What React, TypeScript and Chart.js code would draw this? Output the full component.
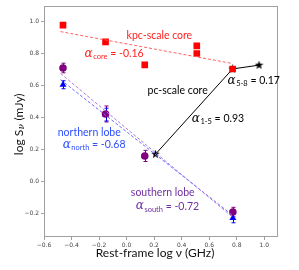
import React, { useEffect, useRef } from "react";
import { Chart, registerables } from "chart.js";

Chart.register(...registerables);

// ---- data ----
const kpcX = [-0.462, -0.153, 0.132, 0.51, 0.51, 0.77];
const kpcY = [0.978, 0.873, 0.729, 0.848, 0.8, 0.703];

const southX = [-0.462, -0.153, 0.132, 0.772];
const southY = [0.709, 0.421, 0.158, -0.194];
const southErr = [0.03, 0.05, 0.035, 0.03];

const northX = [-0.462, -0.153, 0.772];
const northY = [0.604, 0.417, -0.231];
const northErr = [0.025, 0.04, 0.03];

const pcX = [0.21, 0.77, 0.962];
const pcY = [0.169, 0.703, 0.727];

const fitCoreX = [-0.48, 0.77];
const fitCoreY = [0.937, 0.737];
const fitSouthX = [-0.48, 0.77];
const fitSouthY = [0.675, -0.225];
const fitNorthX = [-0.48, 0.77];
const fitNorthY = [0.636, -0.214];

const xTicks = [-0.6, -0.4, -0.2, 0.0, 0.2, 0.4, 0.6, 0.8, 1.0];
const yTicks = [-0.2, 0.0, 0.2, 0.4, 0.6, 0.8, 1.0];

const xTitle = "Rest-frame log \u03bd (GHz)";
const yTitleMain = "log S";
const yTitleSub = "\u03bd";
const yTitleRest = " (mJy)";

const RED = "#ff0000";
const PURPLE = "#800080";
const BLUE = "#0000ff";

const pts = (xs: number[], ys: number[]) => xs.map((x, i) => ({ x, y: ys[i] }));

function makeStar(size: number) {
  const c = document.createElement("canvas");
  c.width = size;
  c.height = size;
  const g = c.getContext("2d")!;
  const cx = size / 2, cy = size / 2, R = size / 2, r = R * 0.42;
  g.beginPath();
  for (let i = 0; i < 10; i++) {
    const rad = i % 2 === 0 ? R : r;
    const a = -Math.PI / 2 + (i * Math.PI) / 5;
    const px = cx + rad * Math.cos(a), py = cy + rad * Math.sin(a);
    if (i === 0) g.moveTo(px, py); else g.lineTo(px, py);
  }
  g.closePath();
  g.fillStyle = "#000";
  g.fill();
  return c;
}

type Ann = { x: number; y: number; color: string; text?: string; sub?: string; rest?: string };
const annotations: Ann[] = [
  { x: 0.0, y: 0.91, color: "#ff2020", text: "kpc-scale core" },
  { x: -0.305, y: 0.8, color: "#ff2020", sub: "core", rest: " = -0.16" },
  { x: 0.152, y: 0.567, color: "#000000", text: "pc-scale core" },
  { x: 0.734, y: 0.63, color: "#000000", sub: "5-8", rest: " = 0.17" },
  { x: 0.474, y: 0.392, color: "#000000", sub: "1-5", rest: " = 0.93" },
  { x: -0.5, y: 0.304, color: "#2f4fff", text: "northern lobe" },
  { x: -0.464, y: 0.229, color: "#2f4fff", sub: "north", rest: " = -0.68" },
  { x: 0.031, y: -0.07, color: "#7030a0", text: "southern lobe" },
  { x: 0.067, y: -0.158, color: "#7030a0", sub: "south", rest: " = -0.72" },
];

const TXT = "Lato";

const overlay = {
  id: "overlay",
  beforeDatasetsDraw(chart: any) {
    const { ctx, chartArea: a, scales } = chart;
    ctx.save();
    ctx.strokeStyle = "#a0a0a0";
    ctx.lineWidth = 1;
    ctx.strokeRect(Math.round(a.left) + 0.5, Math.round(a.top) + 0.5, Math.round(a.right - a.left) - 1, Math.round(a.bottom - a.top) - 1);
    const drawErr = (xs: number[], ys: number[], es: number[], color: string) => {
      ctx.strokeStyle = color;
      ctx.lineWidth = 1;
      xs.forEach((x, i) => {
        const px = Math.round(scales.x.getPixelForValue(x)) + 0.5;
        const y1 = scales.y.getPixelForValue(ys[i] + es[i]);
        const y2 = scales.y.getPixelForValue(ys[i] - es[i]);
        ctx.beginPath();
        ctx.moveTo(px, y1);
        ctx.lineTo(px, y2);
        ctx.moveTo(px - 2, y1);
        ctx.lineTo(px + 2, y1);
        ctx.moveTo(px - 2, y2);
        ctx.lineTo(px + 2, y2);
        ctx.stroke();
      });
    };
    drawErr(southX, southY, southErr, PURPLE);
    drawErr(northX, northY, northErr, BLUE);

    // axis titles
    ctx.fillStyle = "#111";
    ctx.textBaseline = "middle";
    ctx.font = `12px ${TXT}`;
    ctx.textAlign = "center";
    ctx.fillText(xTitle, (a.left + a.right) / 2 - 6, 253);

    ctx.save();
    ctx.translate(19, (a.top + a.bottom) / 2 + 3);
    ctx.rotate(-Math.PI / 2);
    ctx.textAlign = "left";
    const f1 = `12px ${TXT}`, f2 = `italic 8.5px "DejaVu Serif"`;
    ctx.font = f1;
    const w1 = ctx.measureText(yTitleMain).width;
    const w3 = ctx.measureText(yTitleRest).width;
    ctx.font = f2;
    const w2 = ctx.measureText(yTitleSub).width + 1;
    let x0 = -(w1 + w2 + w3) / 2;
    ctx.font = f1;
    ctx.fillText(yTitleMain, x0, 0);
    x0 += w1;
    ctx.font = f2;
    ctx.fillText(yTitleSub, x0 + 0.5, 3);
    x0 += w2;
    ctx.font = f1;
    ctx.fillText(yTitleRest, x0, 0);
    ctx.restore();
    ctx.restore();
  },
  afterDatasetsDraw(chart: any) {
    const { ctx, scales } = chart;
    ctx.save();
    ctx.textBaseline = "middle";
    ctx.textAlign = "left";
    annotations.forEach((an) => {
      let px = scales.x.getPixelForValue(an.x);
      const py = scales.y.getPixelForValue(an.y);
      ctx.fillStyle = an.color;
      if (an.text) {
        ctx.font = `10.5px ${TXT}`;
        ctx.fillText(an.text, px, py);
      } else {
        ctx.font = `italic 12px "DejaVu Serif"`;
        ctx.fillText("\u03b1", px, py);
        px += ctx.measureText("\u03b1").width + 0.5;
        ctx.font = `7.5px ${TXT}`;
        ctx.fillText(an.sub!, px, py + 3);
        px += ctx.measureText(an.sub!).width;
        ctx.font = `10.5px ${TXT}`;
        ctx.fillText(an.rest!, px, py);
      }
    });
    ctx.restore();
  },
};

export default function App() {
  const ref = useRef<HTMLCanvasElement | null>(null);
  useEffect(() => {
    document.body.style.margin = "0";
    const star = makeStar(9);
    const tickFmt = (v: any) => (Number(v) < 0 ? "\u2212" + Math.abs(Number(v)).toFixed(1) : Number(v).toFixed(1));
    const chart = new Chart(ref.current!, {
      type: "scatter",
      data: {
        datasets: [
          { type: "line", data: pts(fitCoreX, fitCoreY), borderColor: "#ff6060", borderWidth: 1, borderDash: [3, 2], pointRadius: 0, fill: false } as any,
          { type: "line", data: pts(fitSouthX, fitSouthY), borderColor: "#b07ad8", borderWidth: 1, borderDash: [3, 2], pointRadius: 0, fill: false } as any,
          { type: "line", data: pts(fitNorthX, fitNorthY), borderColor: "#6a6aff", borderWidth: 1, borderDash: [3, 2], pointRadius: 0, fill: false } as any,
          { data: pts(kpcX, kpcY), pointStyle: "rect", pointRadius: 4.7, backgroundColor: RED, borderColor: RED, borderWidth: 0 },
          { data: pts(southX, southY), pointStyle: "circle", pointRadius: 3.8, backgroundColor: PURPLE, borderColor: PURPLE, borderWidth: 0 },
          { data: pts(northX, northY), pointStyle: "triangle", pointRadius: 4, backgroundColor: BLUE, borderColor: BLUE, borderWidth: 0 },
          { type: "line", data: pts(pcX, pcY), borderColor: "#000", borderWidth: 1, pointStyle: star, pointRadius: 4.5, fill: false } as any,
        ],
      },
      options: {
        animation: false,
        responsive: false,
        events: [],
        layout: { padding: { left: 0, right: 21, top: 4, bottom: 0 } },
        plugins: { legend: { display: false }, tooltip: { enabled: false } },
        scales: {
          x: {
            type: "linear",
            min: -0.6,
            max: 1.1,
            afterBuildTicks: (s: any) => { s.ticks = xTicks.map((v) => ({ value: v })); },
            afterFit: (s: any) => { s.height = 33; },
            grid: { display: true, drawOnChartArea: false, drawTicks: true, tickLength: 3, color: "#a0a0a0" },
            border: { display: false },
            ticks: { font: { family: "DejaVu Sans", size: 6 }, color: "#444", padding: 2, maxRotation: 0, callback: tickFmt },
            title: { display: false },
          },
          y: {
            type: "linear",
            min: -0.35,
            max: 1.1,
            afterBuildTicks: (s: any) => { s.ticks = yTicks.map((v) => ({ value: v })); },
            afterFit: (s: any) => { s.width = 44; },
            grid: { display: true, drawOnChartArea: false, drawTicks: true, tickLength: 3, color: "#a0a0a0" },
            border: { display: false },
            ticks: { font: { family: "DejaVu Sans", size: 6 }, color: "#444", padding: 2, callback: tickFmt },
            title: { display: false },
          },
        },
      },
      plugins: [overlay],
    });
    return () => chart.destroy();
  }, []);
  return (
    <div style={{ width: 299, height: 270 }}>
      <canvas ref={ref} width={299} height={270} style={{ display: "block" }} />
    </div>
  );
}
